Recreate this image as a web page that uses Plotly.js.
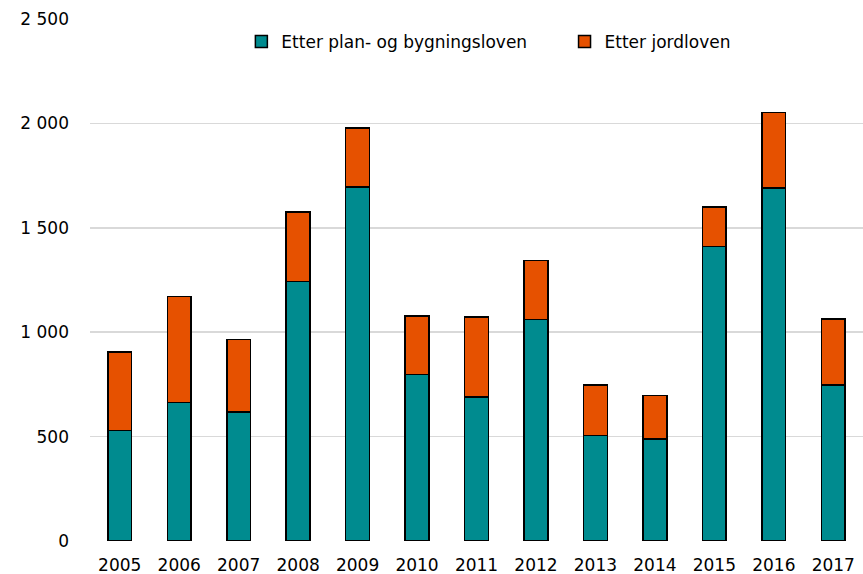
<!DOCTYPE html>
<html>
<head>
<meta charset="utf-8">
<script src="https://cdn.plot.ly/plotly-3.0.1.min.js"></script>
<style>html,body{margin:0;padding:0;background:#fff;}#chart{width:863px;height:574px;}</style>
</head>
<body>
<div id="chart"></div>
<script>
var years = ["2005","2006","2007","2008","2009","2010","2011","2012","2013","2014","2015","2016","2017"];
var planOgBygning = [529, 663, 619, 1244, 1696, 797, 689, 1061, 505, 489, 1411, 1690, 747];
var jordloven = [377, 507, 346, 331, 281, 280, 383, 282, 242, 207, 188, 362, 317];
var seriesNames = ["Etter plan- og bygningsloven", "Etter jordloven"];
var yTickVals = [0, 500, 1000, 1500, 2000, 2500];
var yTickText = ["0", "500", "1 000", "1 500", "2 000", "2 500"];

var spacer = "\u00a0\u00a0\u00a0\u00a0\u00a0\u00a0";
var traces = [
  {type: "bar", name: seriesNames[0] + spacer, x: years, y: planOgBygning,
   marker: {color: "#008B8F", line: {color: "#000000", width: 1.5}}},
  {type: "bar", name: seriesNames[1], x: years, y: jordloven,
   marker: {color: "#E65100", line: {color: "#000000", width: 1.5}}}
];
var layout = {
  width: 863, height: 574,
  margin: {l: 90, r: 0, t: 19, b: 33},
  barmode: "stack",
  bargap: 0.6,
  paper_bgcolor: "#ffffff", plot_bgcolor: "#ffffff",
  font: {family: "DejaVu Sans, sans-serif", size: 17, color: "#000000"},
  showlegend: true,
  legend: {orientation: "h", x: 0.516, xanchor: "center", y: 0.956, yanchor: "middle",
           traceorder: "normal", font: {size: 17}, itemwidth: 30},
  xaxis: {type: "category", showgrid: false, showline: false, ticks: "", tickfont: {size: 17},
          ticklabelstandoff: 12},
  yaxis: {range: [0, 2500], tickvals: yTickVals, ticktext: yTickText, showgrid: true,
          gridcolor: "#d9d9d9", gridwidth: 1.5, zeroline: false, showline: false, ticks: "",
          ticklabelstandoff: 20, tickfont: {size: 17}}
};
Plotly.newPlot("chart", traces, layout, {displayModeBar: false, staticPlot: true});
</script>
</body>
</html>
